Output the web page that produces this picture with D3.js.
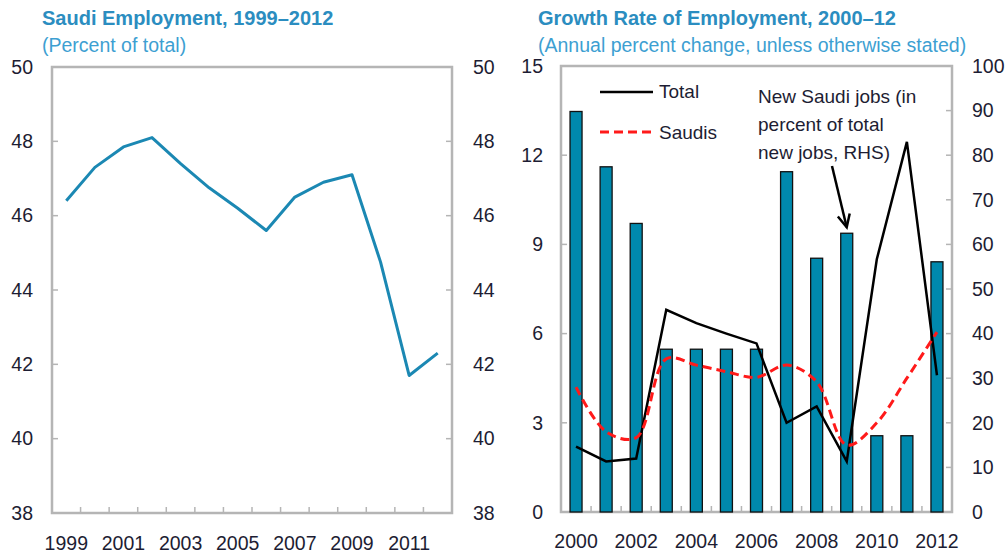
<!DOCTYPE html>
<html>
<head>
<meta charset="utf-8">
<script src="https://cdn.jsdelivr.net/npm/d3@7"></script>
<style>
  body { margin: 0; background: #fff; }
  svg { display: block; }
  .tick-label { font-family: "Liberation Sans", Arial, sans-serif; font-size: 19.5px; fill: #1d1d33; }
  .title { font-family: "Liberation Sans", Arial, sans-serif; font-size: 20px; font-weight: bold; fill: #2b8dc0; }
  .subtitle { font-family: "Liberation Sans", Arial, sans-serif; font-size: 19.5px; fill: #3d9fd2; }
  .note { font-family: "Liberation Sans", Arial, sans-serif; font-size: 19px; fill: #1d1d33; }
</style>
</head>
<body>
<svg id="chart" width="1005" height="553"></svg>
<script>
// left panel: Saudi share of employment
const shareYears = [1999, 2000, 2001, 2002, 2003, 2004, 2005, 2006, 2007, 2008, 2009, 2010, 2011, 2012];
const saudiShare = [46.4, 47.3, 47.85, 48.1, 47.4, 46.75, 46.2, 45.6, 46.5, 46.9, 47.1, 44.75, 41.7, 42.3];
const shareTicks = [38, 40, 42, 44, 46, 48, 50];
const shareYearLabels = [1999, 2001, 2003, 2005, 2007, 2009, 2011];

// right panel: growth rate of employment
const growthYears = [2000, 2001, 2002, 2003, 2004, 2005, 2006, 2007, 2008, 2009, 2010, 2011, 2012];
const newSaudiJobs = [89.8, 77.4, 64.7, 36.5, 36.5, 36.5, 36.5, 76.3, 56.9, 62.5, 17.1, 17.1, 56.1];
const totalGrowth = [2.2, 1.7, 1.8, 6.8, 6.35, 6.0, 5.67, 3.0, 3.55, 1.7, 8.5, 12.45, 4.6];
const saudiGrowth = [4.2, 2.7, 2.5, 5.15, 4.94, 4.72, 4.53, 4.94, 4.38, 2.25, 3.0, 4.5, 6.05];
const growthTicks = [0, 3, 6, 9, 12, 15];
const jobsTicks = [0, 10, 20, 30, 40, 50, 60, 70, 80, 90, 100];
const growthYearLabels = [2000, 2002, 2004, 2006, 2008, 2010, 2012];

const svg = d3.select('#chart');
const frameColor = '#b5b5b5';

function frame(g, w, h) {
  g.append('rect')
    .attr('width', w).attr('height', h)
    .attr('fill', 'none')
    .attr('stroke', frameColor)
    .attr('stroke-width', 2.5);
}

function catTicks(g, x, cats, h) {
  // small upward ticks between categories
  g.selectAll('.ctick').data(cats.slice(1)).join('line')
    .attr('x1', d => x(d)).attr('x2', d => x(d))
    .attr('y1', h).attr('y2', h - 6)
    .attr('stroke', frameColor).attr('stroke-width', 1.5);
}

function sideTicks(g, y, vals, xPos, dir) {
  g.selectAll(null).data(vals).join('line')
    .attr('x1', xPos).attr('x2', xPos + dir * 6)
    .attr('y1', d => y(d)).attr('y2', d => y(d))
    .attr('stroke', frameColor).attr('stroke-width', 1.5);
}

// ---------- left panel ----------
{
  const L = { x: 52, y: 67, w: 400, h: 446 };
  const g = svg.append('g').attr('transform', `translate(${L.x},${L.y})`);

  const x = d3.scaleBand().domain(shareYears).range([0, L.w]);
  const y = d3.scaleLinear().domain([38, 50]).range([L.h, 0]);

  svg.append('text').attr('class', 'title').attr('x', 42).attr('y', 25)
    .text('Saudi Employment, 1999–2012');
  svg.append('text').attr('class', 'subtitle').attr('x', 42).attr('y', 52)
    .text('(Percent of total)');

  frame(g, L.w, L.h);
  const inner = shareTicks.filter(d => d > 38 && d < 50);
  sideTicks(g, y, inner, 0, 1);
  sideTicks(g, y, inner, L.w, -1);
  catTicks(g, x, shareYears, L.h);

  g.selectAll('.yl').data(shareTicks).join('text')
    .attr('class', 'tick-label')
    .attr('x', -19).attr('y', d => y(d)).attr('dy', '0.35em')
    .attr('text-anchor', 'end').text(d => d);
  g.selectAll('.yr').data(shareTicks).join('text')
    .attr('class', 'tick-label')
    .attr('x', L.w + 21).attr('y', d => y(d)).attr('dy', '0.35em')
    .attr('text-anchor', 'start').text(d => d);

  g.selectAll('.xl').data(shareYearLabels).join('text')
    .attr('class', 'tick-label')
    .attr('x', d => x(d) + x.bandwidth() / 2).attr('y', L.h + 37)
    .attr('text-anchor', 'middle').text(d => d);

  const line = d3.line()
    .x((d, i) => x(shareYears[i]) + x.bandwidth() / 2)
    .y(d => y(d));
  g.append('path').datum(saudiShare)
    .attr('d', line)
    .attr('fill', 'none')
    .attr('stroke', '#1b88b3')
    .attr('stroke-width', 3)
    .attr('stroke-linejoin', 'round');
}

// ---------- right panel ----------
{
  const R = { x: 561, y: 66, w: 391, h: 446 };
  const g = svg.append('g').attr('transform', `translate(${R.x},${R.y})`);

  const x = d3.scaleBand().domain(growthYears).range([0, R.w]);
  const yL = d3.scaleLinear().domain([0, 15]).range([R.h, 0]);
  const yR = d3.scaleLinear().domain([0, 100]).range([R.h, 0]);
  const cx = yr => x(yr) + x.bandwidth() / 2;

  svg.append('text').attr('class', 'title').attr('x', 538).attr('y', 25)
    .text('Growth Rate of Employment, 2000–12');
  svg.append('text').attr('class', 'subtitle').attr('x', 538).attr('y', 52)
    .text('(Annual percent change, unless otherwise stated)');

  frame(g, R.w, R.h);
  sideTicks(g, yL, growthTicks.filter(d => d > 0 && d < 15), 0, 1);
  sideTicks(g, yR, jobsTicks.filter(d => d > 0 && d < 100), R.w, -1);
  catTicks(g, x, growthYears, R.h);

  g.selectAll('.yl').data(growthTicks).join('text')
    .attr('class', 'tick-label')
    .attr('x', -18).attr('y', d => yL(d)).attr('dy', '0.35em')
    .attr('text-anchor', 'end').text(d => d);
  g.selectAll('.yr').data(jobsTicks).join('text')
    .attr('class', 'tick-label')
    .attr('x', R.w + 20).attr('y', d => yR(d)).attr('dy', '0.35em')
    .attr('text-anchor', 'start').text(d => d);

  g.selectAll('.xl').data(growthYearLabels).join('text')
    .attr('class', 'tick-label')
    .attr('x', d => cx(d)).attr('y', R.h + 36)
    .attr('text-anchor', 'middle').text(d => d);

  // bars: new Saudi jobs, RHS
  const bw = 12;
  g.selectAll('.bar').data(newSaudiJobs).join('rect')
    .attr('x', (d, i) => cx(growthYears[i]) - bw / 2)
    .attr('y', d => yR(d))
    .attr('width', bw)
    .attr('height', d => R.h - yR(d))
    .attr('fill', '#0089ad')
    .attr('stroke', '#111')
    .attr('stroke-width', 1.3);

  const totalLine = d3.line()
    .x((d, i) => cx(growthYears[i]))
    .y(d => yL(d));
  g.append('path').datum(totalGrowth)
    .attr('d', totalLine)
    .attr('fill', 'none').attr('stroke', '#000').attr('stroke-width', 2.5);

  const saudiLine = d3.line()
    .x((d, i) => cx(growthYears[i]))
    .y(d => yL(d))
    .curve(d3.curveCatmullRom.alpha(0.5));
  g.append('path').datum(saudiGrowth)
    .attr('d', saudiLine)
    .attr('fill', 'none').attr('stroke', '#ff1a1a').attr('stroke-width', 3)
    .attr('stroke-dasharray', '9,5');

  // legend
  g.append('line').attr('x1', 39).attr('x2', 92).attr('y1', 26).attr('y2', 26)
    .attr('stroke', '#000').attr('stroke-width', 2.5);
  g.append('text').attr('class', 'note').attr('x', 98).attr('y', 25).attr('dy', '0.35em').text('Total');
  g.append('line').attr('x1', 39).attr('x2', 92).attr('y1', 66).attr('y2', 66)
    .attr('stroke', '#ff1a1a').attr('stroke-width', 3).attr('stroke-dasharray', '9,5');
  g.append('text').attr('class', 'note').attr('x', 98).attr('y', 66).attr('dy', '0.35em').text('Saudis');

  // annotation with arrow to the 2009 bar
  const note = ['New Saudi jobs (in', 'percent of total', 'new jobs, RHS)'];
  g.selectAll('.nt').data(note).join('text')
    .attr('class', 'note')
    .attr('x', 197).attr('y', (d, i) => 30 + i * 28).attr('dy', '0.35em')
    .text(d => d);

  const tipX = cx(2009);
  const tipY = yR(newSaudiJobs[9]) - 6;
  const startX = 271, startY = 100;
  g.append('line')
    .attr('x1', startX).attr('y1', startY).attr('x2', tipX).attr('y2', tipY)
    .attr('stroke', '#000').attr('stroke-width', 2.5);
  const ang = Math.atan2(tipY - startY, tipX - startX);
  const hl = 14, spread = 0.45;
  g.append('path')
    .attr('d', `M${tipX - hl * Math.cos(ang - spread)},${tipY - hl * Math.sin(ang - spread)}` +
               `L${tipX},${tipY}` +
               `L${tipX - hl * Math.cos(ang + spread)},${tipY - hl * Math.sin(ang + spread)}`)
    .attr('fill', 'none').attr('stroke', '#000').attr('stroke-width', 2.5);
}
</script>
</body>
</html>
